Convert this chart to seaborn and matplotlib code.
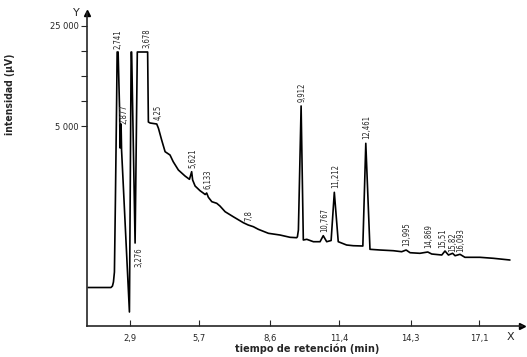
import pandas as pd
import seaborn as sns
import matplotlib.pyplot as plt

# retention time (min) / detector signal (µV)
tiempo = [1.19, 2.12, 2.18, 2.22, 2.26, 2.30, 2.35, 2.37, 2.41, 2.47, 2.49, 2.53, 2.55, 2.61,
          2.87, 2.94, 2.96, 3.10, 3.19, 3.61, 3.64, 3.71, 3.98, 4.05, 4.18, 4.32, 4.52, 4.65,
          4.86, 5.13, 5.31, 5.40, 5.44, 5.54, 5.74, 5.87, 5.95, 6.01, 6.08, 6.22, 6.42, 6.55,
          6.76, 7.09, 7.50, 7.70, 7.91, 8.11, 8.52, 8.99, 9.40, 9.67, 9.70, 9.74, 9.85, 9.94,
          10.08, 10.35, 10.62, 10.75, 10.89, 11.07, 11.20, 11.36, 11.70, 11.97, 12.36, 12.48,
          12.65, 13.06, 13.60, 13.94, 14.12, 14.28, 14.68, 15.00, 15.16, 15.57, 15.70, 15.84,
          16.01, 16.11, 16.31, 16.51, 17.12, 17.67, 18.34]
senal = [-27300, -27300, -27000, -26200, -24200, -9800, 10200, 19800, 19800, 8200, 600, 5400, 200, -5800,
         -32200, 19800, 19800, -18400, 19800, 19800, 5800, 5600, 5400, 4540, 2200, -140, -800, -2140,
         -3800, -5000, -5660, -4140, -5800, -7000, -7940, -8400, -8700, -8400, -9260, -10140, -10460, -11000,
         -12140, -13140, -14340, -14800, -15140, -15660, -16460, -16800, -17260, -17340, -17140, -15800, 9000, -17800,
         -17660, -18140, -18140, -16940, -18140, -17900, -8260, -18140, -18800, -18940, -19000, 1540,
         -19660, -19800, -19940, -20140, -19800, -20340, -20460, -20200, -20600, -20800, -20000, -20800,
         -20460, -20940, -20660, -21260, -21260, -21460, -21800]

# labelled peaks
etiquetas = ["2,741", "2,877", "3,276", "3,678", "4,25", "5,621", "6,133", "7,8", "9,912",
             "10,767", "11,212", "12,461", "13,995", "14,869", "15,51", "15,82", "16,093"]
pico_t = [2.39, 2.53, 3.10, 3.61, 3.98, 5.40, 6.01, 7.70, 9.85,
          10.75, 11.20, 12.48, 14.12, 15.00, 15.70, 16.01, 16.31]
pico_y = [19800, 5400, -18400, 19800, 5400, -4140, -8400, -14800, 9000,
          -16940, -8260, 1540, -19800, -20200, -20000, -20460, -20660]

xticks = [2.9, 5.7, 8.6, 11.4, 14.3, 17.1]
xtick_labels = ["2,9", "5,7", "8,6", "11,4", "14,3", "17,1"]
yticks = [5000, 10000, 15000, 20000, 25000]
ytick_labels = ["5 000", "", "", "", "25 000"]

df = pd.DataFrame({"tiempo": tiempo, "senal": senal})

sns.set_style("ticks")
plt.rcParams["font.family"] = ["DejaVu Sans"]
narrow = ["Liberation Sans Narrow", "DejaVu Sans"]

fig = plt.figure(figsize=(5.27, 3.57), dpi=100)
ax = fig.add_axes([0.1657, 0.0868, 0.8243, 0.8768])

sns.lineplot(data=df, x="tiempo", y="senal", ax=ax, color="black", linewidth=1.2,
             sort=False, estimator=None)

# text offsets (pixels) for the peak labels
offsets = {"2,877": (3, 0), "3,276": (4, -4), "3,678": (-1, 4), "2,741": (0, 3),
           "15,51": (-2, 3), "15,82": (0, 1), "16,093": (1, 2)}
for lab, t, y in zip(etiquetas, pico_t, pico_y):
    dx, dy = offsets.get(lab, (1, 4))
    ax.annotate(lab, (t, y), xytext=(dx, dy), textcoords="offset pixels",
                rotation=90, ha="center", va="top" if dy < 0 else "bottom",
                fontsize=5.5, family=narrow, fontstretch="condensed")

ax.set_xlim(1.158, 18.82)
ax.set_ylim(-35000, 27600)
ax.set_xticks(xticks)
ax.set_xticklabels(xtick_labels, fontsize=6)
ax.set_yticks(yticks)
ax.set_yticklabels(ytick_labels, fontsize=6)
ax.tick_params(axis="x", direction="in", length=4, width=0.8, pad=6)
ax.tick_params(axis="y", direction="out", length=4, width=0.8, pad=2)

sns.despine(ax=ax)
for s in ["left", "bottom"]:
    ax.spines[s].set_linewidth(1.2)
ax.plot(1, 0, marker=">", color="black", ms=4, transform=ax.transAxes, clip_on=False)
ax.plot(0, 1, marker="^", color="black", ms=4, transform=ax.transAxes, clip_on=False)
ax.text(-0.026, 1.0, "Y", transform=ax.transAxes, ha="center", va="center", fontsize=8)
ax.text(0.973, -0.035, "X", transform=ax.transAxes, ha="center", va="center", fontsize=8)

ax.set_xlabel("tiempo de retención (min)", fontsize=7, fontweight="bold", family=narrow)
ax.xaxis.set_label_coords(0.505, -0.057)
ax.set_ylabel("intensidad (µV)", fontsize=7.5, fontweight="bold", family=narrow,
              fontstretch="condensed")
ax.yaxis.set_label_coords(-0.166, 0.741)

fig.savefig("out.png", dpi=100)
